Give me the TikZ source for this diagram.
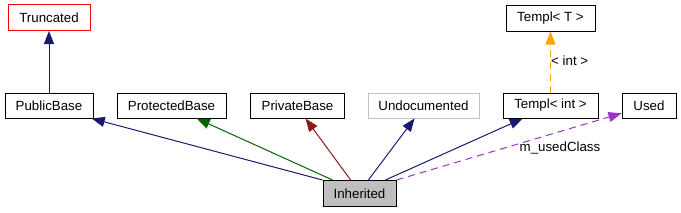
\documentclass[tikz,border=0pt]{standalone}
\usepackage{fontspec}
\setmainfont{Liberation Sans}
\usetikzlibrary{arrows.meta,calc}
\definecolor{mblue}{HTML}{191970}
\definecolor{dgreen}{HTML}{006400}
\definecolor{fbrick}{HTML}{8B1A1A}
\definecolor{orchid}{HTML}{9A32CD}
\definecolor{lgrey}{HTML}{BFBFBF}
\definecolor{orng}{HTML}{FFA500}
\begin{document}
\begin{tikzpicture}[x=1pt,y=-1pt,
  cls/.style={draw=black, line width=1pt, fill=white, minimum height=25pt, inner sep=0pt,
    font=\fontsize{13.3}{15}\selectfont},
  lbl/.style={inner sep=0pt, font=\fontsize{13.3}{15}\selectfont},
  rel/.style={line width=1pt, -{Triangle[length=13pt,width=10pt]}},
  dsh/.style={dash pattern=on 7pt off 5pt}]
\useasboundingbox (0,0) rectangle (681,212);
\node[cls, draw=red, minimum width=82pt, minimum height=26pt] (trunc) at (49,17.5) {Truncated};
\node[cls, minimum width=88pt] (pub) at (49,105.5) {PublicBase};
\node[cls, minimum width=109pt] (prot) at (171.5,105.5) {ProtectedBase};
\node[cls, minimum width=94pt] (priv) at (297.5,105.5) {PrivateBase};
\node[cls, draw=lgrey, minimum width=111pt] (undoc) at (423.5,105.5) {Undocumented};
\node[cls, minimum width=95pt] (tint) at (550.5,105.5) {Templ< int >};
\node[cls, minimum width=54pt] (used) at (649,105.5) {Used};
\node[cls, minimum width=89pt, minimum height=26pt] (tT) at (550.5,18) {Templ< T >};
\node[cls, fill=lgrey, minimum width=73pt, minimum height=26pt] (inh) at (359.5,193.5) {Inherited};

\draw[rel, mblue] (pub.north) -- (trunc.south);
\draw[rel, orng, dsh] (tint.north) -- (tT.south);
\node[lbl, anchor=west] (lint) at (551,61) {< int >};

\draw[rel, mblue] (inh.north west) -- ($(pub.south west)!0.98!(pub.south east)$);
\draw[rel, dgreen] ($(inh.north west)!0.137!(inh.north east)$) -- ($(prot.south west)!0.73!(prot.south east)$);
\draw[rel, fbrick] ($(inh.north west)!0.38!(inh.north east)$) -- ($(priv.south west)!0.585!(priv.south east)$);
\draw[rel, mblue] ($(inh.north west)!0.62!(inh.north east)$) -- ($(undoc.south west)!0.42!(undoc.south east)$);
\draw[rel, mblue] ($(inh.north west)!0.85!(inh.north east)$) -- ($(tint.south west)!0.21!(tint.south east)$);
\draw[rel, orchid, dsh] (inh.north east) -- ($(used.north west)!0.8!(used.south west)$);
\node[lbl] (luse) at (560,148) {m\_usedClass};
\end{tikzpicture}
\end{document}
